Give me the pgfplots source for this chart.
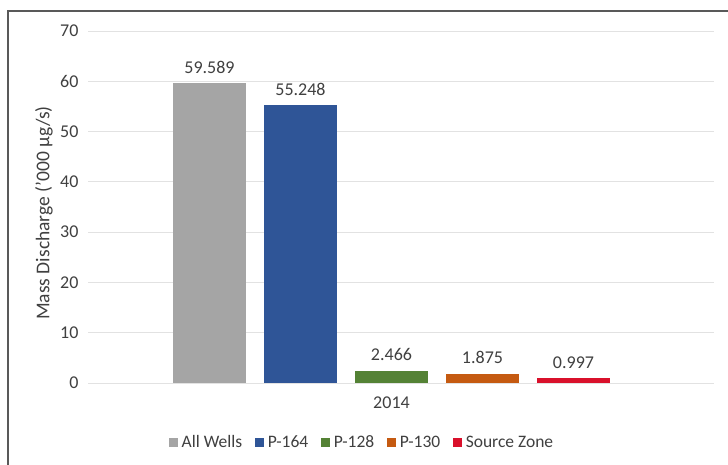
\documentclass[border=0pt]{standalone}
\usepackage{pgfplots}
\pgfplotsset{compat=1.18}
\usepackage{fontspec}
\setmainfont{Carlito}
\definecolor{txt}{HTML}{404040}
\definecolor{gridc}{HTML}{E2E2E2}
\definecolor{cAll}{HTML}{A5A5A5}
\definecolor{cP164}{HTML}{2F5597}
\definecolor{cP128}{HTML}{548235}
\definecolor{cP130}{HTML}{C55A11}
\definecolor{cSrc}{HTML}{D9102B}
\begin{document}
\begin{tikzpicture}[x=1pt,y=1pt]
\useasboundingbox (0,0) rectangle (728,464);
\fill[white] (0,0) rectangle (728,464);
\draw[black!65, line width=1.6pt] (8,-2) -- (8,453) -- (740,453);
\begin{axis}[
  at={(88pt,81pt)}, anchor=south west,
  scale only axis, width=626pt, height=352pt,
  xmin=-1.335, xmax=5.544,
  ymin=0, ymax=70, ytick={0,10,...,70},
  xtick={2}, xticklabels={2014},
  axis line style={draw=none},
  tick style={draw=none},
  ymajorgrids, grid style={gridc, line width=0.9pt},
  font=\fontsize{18}{21}\selectfont,
  every tick label/.append style={text=txt},
  /pgf/number format/assume math mode=true,
  yticklabel style={xshift=-6pt},
  xticklabel style={yshift=-6pt},
  ylabel={Mass Discharge ('000 µg/s)},
  ylabel style={at={(axis description cs:-0.0703,0.483)}, anchor=center, rotate=0, text=txt, font=\fontsize{19.5}{22}\selectfont},
  ybar, bar width=73pt, bar shift=0pt,
  nodes near coords,
  nodes near coords style={text=txt, font=\fontsize{18}{21}\selectfont, anchor=south, yshift=6pt, /pgf/number format/.cd, fixed, precision=3, fixed zerofill},
  legend columns=5,
  legend style={at={(axis description cs:0.438,-0.168)}, anchor=center, draw=none, fill=none,
    font=\fontsize{17.5}{20}\selectfont, text=txt,
    /tikz/every odd column/.append style={column sep=2pt},
    /tikz/every even column/.append style={column sep=11pt}},
  legend image code/.code={\fill[#1] (0pt,-4.5pt) rectangle (8.5pt,4pt);},
]
\addplot[fill=cAll, draw=none] coordinates {(0,59.589)};
\addlegendentry{All Wells}
\addplot[fill=cP164, draw=none] coordinates {(1,55.248)};
\addlegendentry{P-164}
\addplot[fill=cP128, draw=none] coordinates {(2,2.466)};
\addlegendentry{P-128}
\addplot[fill=cP130, draw=none] coordinates {(3,1.875)};
\addlegendentry{P-130}
\addplot[fill=cSrc, draw=none] coordinates {(4,0.997)};
\addlegendentry{Source Zone}
\end{axis}
\end{tikzpicture}
\end{document}
